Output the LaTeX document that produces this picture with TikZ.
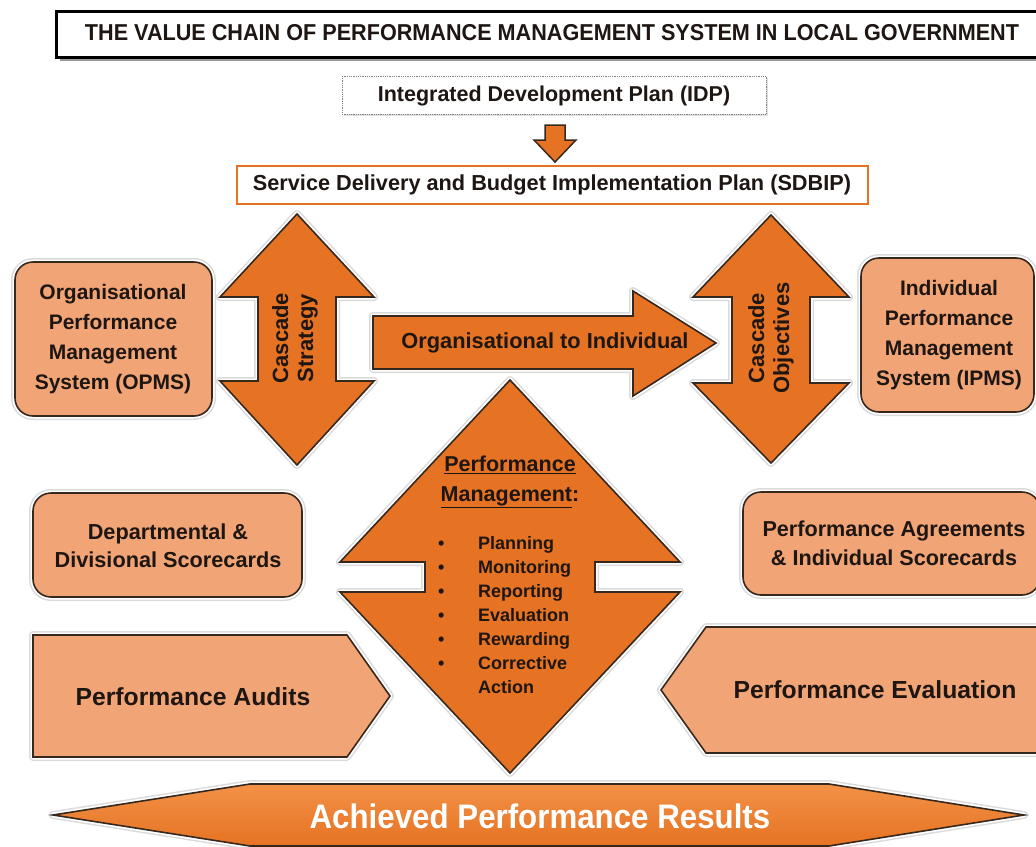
\documentclass[tikz,border=0pt]{standalone}
\usepackage{fontspec}
\setmainfont{Liberation Sans}
\usepackage{graphicx}
\definecolor{org}{RGB}{230,115,35}
\definecolor{orglight}{RGB}{242,145,70}
\definecolor{lor}{RGB}{241,164,117}
\definecolor{edge}{RGB}{55,40,30}
\definecolor{ink}{RGB}{30,22,18}
\newcommand{\fsz}[2]{\fontsize{#1}{#2}\selectfont}
\newcommand{\bul}{\makebox[40pt][l]{\textbullet}}
\newcommand{\nobul}{\makebox[40pt][l]{}}
\begin{document}
\begin{tikzpicture}[x=1pt,y=-1pt,
  halo/.style={preaction={draw=black!14,line width=8pt,line join=round},
               preaction={draw=white,line width=5pt,line join=round}},
  oshape/.style={halo,fill=org,draw=edge,line width=1.6pt,line join=miter},
  lbox/.style={halo,fill=lor,draw=edge,line width=1.6pt,rounded corners=18pt},
  lshape/.style={halo,fill=lor,draw=edge,line width=1.6pt,line join=miter},
  txt/.style={text=ink,font=\bfseries,align=center,inner sep=0pt},
]
\useasboundingbox (0,0) rectangle (1036,846);
\fill[white] (0,0) rectangle (1036,846);
\clip (0,0) rectangle (1036,846);

% title
\fill[black!40] (60,15) rectangle (1052,61);
\draw[line width=3pt,fill=white] (56,11) rectangle (1046,57);
\node[txt,font=\bfseries\fsz{23}{28}] (title) at (552,33)
  {\scalebox{0.94}[1]{THE VALUE CHAIN OF PERFORMANCE MANAGEMENT SYSTEM IN LOCAL GOVERNMENT}};

% IDP
\fill[black!12] (344,78) rectangle (768,116);
\draw[draw=black!50,line width=0.8pt,densely dotted,fill=white] (342,76) rectangle (766,114);
\node[txt,font=\bfseries\fsz{21.5}{26}] (idp) at (554,96) {Integrated Development Plan (IDP)};

% down arrow
\draw[fill=org,draw=edge,line width=1.5pt,line join=miter]
  (545,125) -- (565,125) -- (565,140) -- (576,140) -- (555,162) -- (534,140) -- (545,140) -- cycle;

% SDBIP
\draw[draw=org,line width=2pt,fill=white] (237,166) rectangle (868,204);
\node[txt,font=\bfseries\fsz{21.7}{26}] (sdbip) at (552,185) {Service Delivery and Budget Implementation Plan (SDBIP)};

% OPMS / IPMS boxes
\draw[lbox] (15,262) rectangle (212,416);
\node[txt,font=\bfseries\fsz{21}{30}] (opms) at (113,339)
  {Organisational\\Performance\\Management\\System (OPMS)};
\draw[lbox] (861,258) rectangle (1034,412);
\node[txt,font=\bfseries\fsz{21}{30}] (ipms) at (949,335)
  {Individual\\Performance\\Management\\System (IPMS)};

% cascade strategy double arrow
\draw[oshape] (297,214) -- (374,297) -- (336,297) -- (336,381) -- (374,381) -- (297,465)
  -- (220,381) -- (258,381) -- (258,297) -- (220,297) -- cycle;
\node[txt,font=\bfseries\fsz{22}{25},rotate=90] (cstrat) at (295,338) {Cascade\\Strategy};

% cascade objectives double arrow
\draw[oshape] (771,215) -- (849,297) -- (810,297) -- (810,383) -- (849,383) -- (771,463)
  -- (693,383) -- (732,383) -- (732,297) -- (693,297) -- cycle;
\node[txt,font=\bfseries\fsz{22}{25},rotate=90] (cobj) at (771,338) {Cascade\\Objectives};

% organisational to individual arrow
\draw[oshape] (373,316) -- (633,316) -- (633,291) -- (716,343) -- (633,396) -- (633,369) -- (373,369) -- cycle;
\node[txt,font=\bfseries\fsz{21.8}{26}] (o2i) at (545,343) {Organisational to Individual};

% performance management diamond
\draw[oshape] (510,380) -- (680,562) -- (595,562) -- (595,592) -- (680,592) -- (510,773)
  -- (340,592) -- (425,592) -- (425,562) -- (340,562) -- cycle;
\node[txt,font=\bfseries\fsz{21.5}{30}] (pmhead) at (510,482)
  {\underline{Performance}\\\underline{Management}:};
\node[txt,font=\bfseries\fsz{18}{24},align=left,anchor=west] (pmlist) at (438,615)
  {\bul Planning\\\bul Monitoring\\\bul Reporting\\\bul Evaluation\\\bul Rewarding\\\bul Corrective\\\nobul Action};

% scorecard boxes
\draw[lbox] (33,493) rectangle (302,597);
\node[txt,font=\bfseries\fsz{21.7}{28}] (dept) at (168,546)
  {Departmental \&\\Divisional Scorecards};
\draw[lbox] (743,492) rectangle (1040,595);
\node[txt,font=\bfseries\fsz{21.6}{29}] (agree) at (894,543)
  {Performance Agreements\\\& Individual Scorecards};

% audits / evaluation pentagons
\draw[lshape] (33,635) -- (347,635) -- (390,696) -- (347,757) -- (33,757) -- cycle;
\node[txt,font=\bfseries\fsz{24.7}{30}] (audit) at (193,697) {Performance Audits};
\draw[lshape] (1060,627) -- (706,627) -- (661,690) -- (706,753) -- (1060,753) -- cycle;
\node[txt,font=\bfseries\fsz{24.7}{30}] (evalu) at (875,690) {Performance Evaluation};

% achieved results
\draw[halo,top color=orglight,bottom color=org,draw=edge,line width=1.6pt,line join=miter]
  (250,784) -- (829,784) -- (1024,815) -- (829,846) -- (250,846) -- (53,815) -- cycle;
\node[txt,text=white,font=\bfseries\fsz{34}{40}] (ach) at (540,816)
  {\scalebox{0.92}[1]{Achieved Performance Results}};
\end{tikzpicture}
\end{document}
